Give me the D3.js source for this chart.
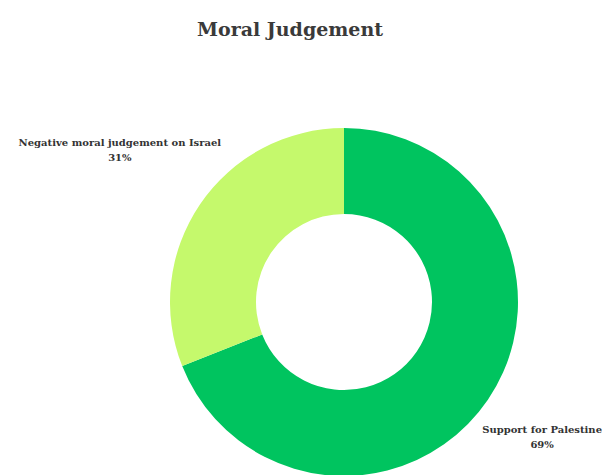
<!DOCTYPE html>
<html>
<head>
<meta charset="utf-8">
<script src="https://cdn.jsdelivr.net/npm/d3@7"></script>
<style>
  body { margin: 0; background: #fff; }
  svg { display: block; }
</style>
</head>
<body>
<div id="chart"></div>
<script>
var width = 602;
var height = 475;

var categories = ["Support for Palestine", "Negative moral judgement on Israel"];
var values = [69, 31];
var colors = ["#00c45f", "#c5f96c"];

var cx = 344, cy = 302;
var outerR = 174, innerR = 88, labelR = 271;

var svg = d3.select("#chart")
    .append("svg")
    .attr("width", width)
    .attr("height", height);

svg.append("text")
    .attr("x", 290)
    .attr("y", 36)
    .attr("text-anchor", "middle")
    .style("font-family", "DejaVu Serif")
    .style("font-size", "19px")
    .style("font-weight", "bold")
    .style("fill", "#3a3a3a")
    .text("Moral Judgement");

var data = categories.map((c, i) => ({name: c, value: values[i], color: colors[i]}));

var pie = d3.pie().sort(null).value(d => d.value);
var arc = d3.arc().innerRadius(innerR).outerRadius(outerR);
var labelArc = d3.arc().innerRadius(labelR).outerRadius(labelR);

var g = svg.append("g").attr("transform", "translate(" + cx + "," + cy + ")");

g.selectAll(".slice")
    .data(pie(data))
    .enter().append("path")
    .attr("class", "slice")
    .attr("d", arc)
    .style("fill", d => d.data.color);

var labels = g.selectAll(".lbl")
    .data(pie(data))
    .enter().append("text")
    .attr("class", "lbl")
    .attr("text-anchor", "middle")
    .style("font-family", "DejaVu Serif")
    .style("font-size", "10px")
    .style("font-weight", "bold")
    .style("fill", "#333");

labels.append("tspan").attr("x", 0).attr("dy", 0).text(d => d.data.name);
labels.append("tspan").attr("x", 0).attr("dy", "1.5em").text(d => d.data.value + "%");

labels.attr("transform", function(d) {
    var p = labelArc.centroid(d);
    var b = this.getBBox();
    var x = Math.min(p[0], width - cx - b.width / 2);
    x = Math.max(x, -cx + b.width / 2);
    var y = Math.min(p[1] - 4, height - cy - 42);
    return "translate(" + x + "," + y + ")";
});
</script>
</body>
</html>
